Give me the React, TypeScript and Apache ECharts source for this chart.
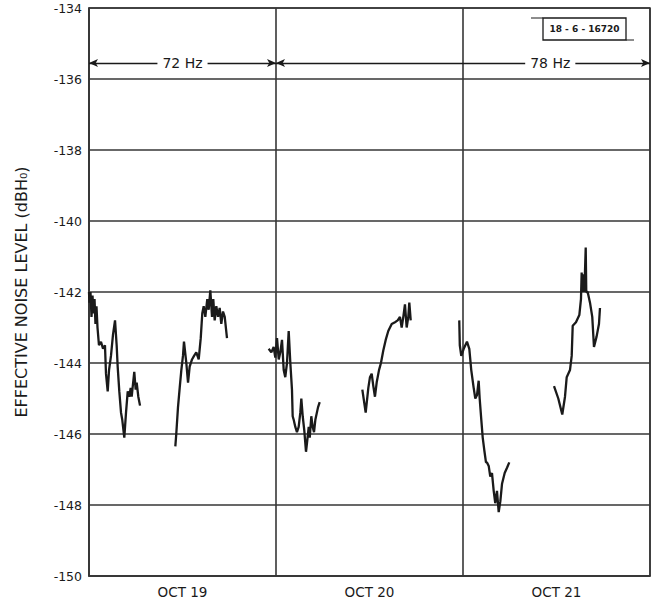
import React, { useEffect, useRef } from "react";
import * as echarts from "echarts";

// ---- data (x in hours from start of OCT 19, y in dBH0) ----
const dayLabels = ["OCT 19", "OCT 20", "OCT 21"];
const yMin = -150;
const yMax = -134;
const yStep = 2;

const oct19Early: [number, number][] = [
  [0.0, -142.0], [0.06, -142.3], [0.19, -142.0], [0.32, -142.7], [0.45, -142.1],
  [0.58, -142.6], [0.71, -142.2], [0.83, -142.9], [0.96, -142.4], [1.09, -143.0],
  [1.28, -143.5], [1.54, -143.4], [1.8, -143.6], [2.05, -143.5], [2.18, -144.3],
  [2.4, -144.8], [2.57, -144.2], [2.82, -143.8], [3.08, -143.2], [3.34, -142.8],
  [3.55, -143.5], [3.68, -144.1], [3.89, -144.8], [4.11, -145.4], [4.27, -145.6],
  [4.53, -146.1], [4.75, -145.4], [4.97, -144.8], [5.17, -144.95], [5.35, -144.7],
  [5.48, -144.95], [5.69, -144.5], [5.81, -144.25], [5.99, -144.75], [6.12, -144.55],
  [6.33, -144.95], [6.55, -145.2],
];
const oct19Late: [number, number][] = [
  [11.08, -146.35], [11.2, -146.0], [11.42, -145.25], [11.64, -144.7], [11.85, -144.2],
  [12.06, -143.8], [12.19, -143.4], [12.49, -144.0], [12.71, -144.55], [12.92, -144.1],
  [13.22, -143.9], [13.48, -143.8], [13.77, -143.7], [14.08, -143.9], [14.34, -143.3],
  [14.54, -142.6], [14.72, -142.4], [14.93, -142.7], [15.18, -142.2], [15.36, -142.5],
  [15.57, -141.95], [15.79, -142.7], [15.95, -142.2], [16.13, -142.8], [16.34, -142.4],
  [16.56, -142.7], [16.77, -142.45], [16.98, -142.9], [17.2, -142.55], [17.42, -142.7],
  [17.71, -143.3],
];
const oct20Early: [number, number][] = [
  [23.06, -143.6], [23.4, -143.7], [23.7, -143.55], [23.91, -143.85], [24.13, -143.3],
  [24.35, -143.9], [24.55, -143.7], [24.77, -143.35], [24.99, -144.2], [25.19, -144.4],
  [25.41, -144.0], [25.63, -143.1], [25.84, -144.0], [26.05, -144.75], [26.14, -145.5],
  [26.27, -145.6], [26.48, -145.8], [26.69, -145.95], [26.91, -145.8], [27.12, -145.4],
  [27.25, -145.0], [27.43, -145.5], [27.63, -145.9], [27.85, -146.5], [27.98, -146.25],
  [28.2, -145.8], [28.33, -146.1], [28.53, -145.5], [28.71, -145.8], [28.88, -145.95],
  [29.05, -145.6], [29.39, -145.25], [29.61, -145.1],
];
const oct20Late: [number, number][] = [
  [35.08, -144.75], [35.51, -145.4], [35.85, -144.7], [36.06, -144.4], [36.28, -144.3],
  [36.49, -144.65], [36.7, -144.95], [36.92, -144.55], [37.22, -144.2], [37.47, -144.0],
  [37.77, -143.65], [38.08, -143.35], [38.41, -143.1], [38.85, -142.9], [39.27, -142.85],
  [39.62, -142.8], [39.91, -142.7], [40.13, -143.0], [40.34, -142.7], [40.55, -142.35],
  [40.77, -143.0], [40.98, -142.7], [41.11, -142.3], [41.29, -142.8],
];
const oct21Early: [number, number][] = [
  [47.52, -142.8], [47.59, -143.5], [47.78, -143.8], [48.09, -143.6], [48.51, -143.4],
  [48.81, -143.6], [49.06, -144.2], [49.37, -144.7], [49.58, -145.0], [49.8, -144.9],
  [50.01, -144.5], [50.14, -145.0], [50.35, -145.6], [50.53, -146.1], [50.73, -146.45],
  [50.95, -146.8], [51.08, -146.8], [51.3, -146.9], [51.5, -147.2], [51.72, -147.1],
  [51.94, -147.6], [52.14, -147.95], [52.36, -147.6], [52.58, -148.2], [52.79, -147.9],
  [53.01, -147.4], [53.35, -147.1], [53.65, -146.95], [53.94, -146.8],
];
const oct21Late: [number, number][] = [
  [59.68, -144.65], [60.23, -145.0], [60.74, -145.45], [61.09, -144.95], [61.31, -144.4],
  [61.73, -144.2], [61.95, -143.8], [62.08, -142.95], [62.5, -142.85], [62.93, -142.65],
  [63.14, -142.2], [63.23, -141.45], [63.33, -142.0], [63.44, -141.5], [63.55, -142.0],
  [63.66, -141.4], [63.75, -140.75], [63.82, -142.0], [64.0, -142.0], [64.3, -142.3],
  [64.59, -142.7], [64.81, -143.55], [65.15, -143.25], [65.45, -142.9], [65.58, -142.45],
];

const segments = [oct19Early, oct19Late, oct20Early, oct20Late, oct21Early, oct21Late];

// frequency bands: [startHour, endHour, label, labelHour]
const bands: [number, number, string, number][] = [
  [0, 24, "72 Hz", 12],
  [24, 72, "78 Hz", 59.2],
];
const bandLevel = -135.55;
const figureId = "18 - 6 - 16720";

const ink = "#1a1a1a";
const gridInk = "#363636";
const font = "DejaVu Sans";

export default function App() {
  const ref = useRef<HTMLDivElement>(null);
  useEffect(() => {
    if (!ref.current) return;
    const chart = echarts.init(ref.current, null, { renderer: "svg" });
    const lineSeries = segments.map((seg) => ({
      type: "line",
      xAxisIndex: 1,
      yAxisIndex: 0,
      data: seg,
      showSymbol: false,
      symbol: "none",
      lineStyle: { color: ink, width: 2.3 },
      silent: true,
    }));
    chart.setOption({
      animation: false,
      backgroundColor: "#ffffff",
      textStyle: { fontFamily: font },
      grid: {
        left: 89,
        top: 8,
        width: 561,
        height: 568,
        show: true,
        borderColor: gridInk,
        borderWidth: 1.5,
        backgroundColor: "transparent",
      },
      xAxis: [
        {
          type: "category",
          data: dayLabels,
          boundaryGap: true,
          axisLine: { show: true, lineStyle: { color: gridInk, width: 1.6 } },
          axisTick: { show: false },
          splitLine: { show: true, lineStyle: { color: gridInk, width: 1.6 } },
          axisLabel: { color: ink, fontSize: 13.5, margin: 9, fontFamily: font },
        },
        { type: "value", min: 0, max: 72, show: false },
      ],
      yAxis: {
        type: "value",
        min: yMin,
        max: yMax,
        interval: yStep,
        name: "EFFECTIVE NOISE LEVEL (dBH₀)",
        nameLocation: "middle",
        nameRotate: 90,
        nameGap: 60,
        nameTextStyle: { color: ink, fontSize: 16, fontFamily: font },
        axisLine: { show: true, lineStyle: { color: gridInk, width: 1.6 } },
        axisTick: { show: false },
        splitLine: { show: true, lineStyle: { color: gridInk, width: 1.6 } },
        axisLabel: { color: ink, fontSize: 12.5, margin: 7, fontFamily: font },
      },
      series: [
        ...lineSeries,
        {
          type: "line",
          xAxisIndex: 1,
          data: [],
          silent: true,
          markLine: {
            silent: true,
            symbol: ["arrow", "arrow"],
            symbolSize: [6, 9],
            lineStyle: { color: ink, width: 1.4, type: "solid" },
            label: { show: false },
            data: bands.map((b) => [
              { coord: [b[0], bandLevel] },
              { coord: [b[1], bandLevel] },
            ]),
          },
          markPoint: {
            silent: true,
            symbol: "rect",
            symbolSize: 0,
            label: {
              show: true,
              position: "inside",
              color: ink,
              fontSize: 14,
              fontFamily: font,
              backgroundColor: "#ffffff",
              padding: [1, 5],
              formatter: (p: any) => p.name,
            },
            data: bands.map((b) => ({ name: b[2], coord: [b[3], bandLevel] })),
          },
        },
      ],
      graphic: [
        {
          type: "line",
          shape: { x1: 531, y1: 18, x2: 543, y2: 18 },
          style: { stroke: ink, lineWidth: 1 },
        },
        {
          type: "rect",
          shape: { x: 543, y: 18, width: 83, height: 22 },
          style: { fill: "#ffffff", stroke: ink, lineWidth: 1.3 },
        },
        {
          type: "line",
          shape: { x1: 626, y1: 40, x2: 634, y2: 40 },
          style: { stroke: ink, lineWidth: 1 },
        },
        {
          type: "text",
          x: 584.5,
          y: 29,
          style: {
            text: figureId,
            fill: ink,
            fontSize: 9,
            fontWeight: "bold",
            fontFamily: font,
            align: "center",
            verticalAlign: "middle",
          },
        },
      ],
    });
    return () => chart.dispose();
  }, []);
  return (
    <div
      ref={ref}
      style={{ position: "fixed", left: 0, top: 0, width: 652, height: 599 }}
    />
  );
}
